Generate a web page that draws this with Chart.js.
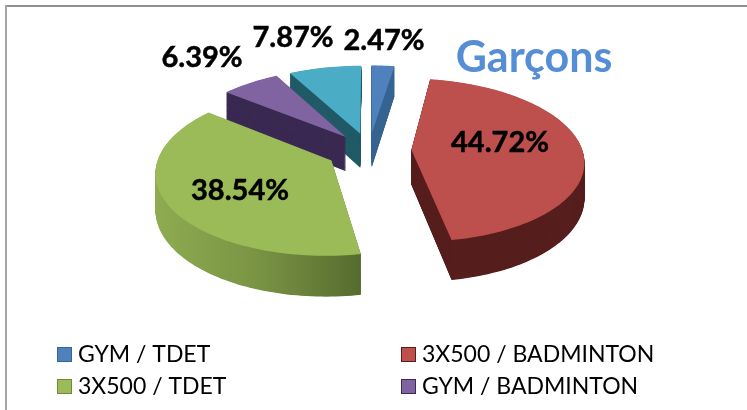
<!DOCTYPE html>
<html>
<head>
<meta charset="utf-8">
<style>
  html, body { margin: 0; padding: 0; background: #fff; }
  #wrap { width: 747px; height: 410px; }
</style>
<script src="https://cdn.jsdelivr.net/npm/chart.js@4"></script>
</head>
<body>
<div id="wrap"><canvas id="myChart" width="747" height="410"></canvas></div>
<script>
const categories = ['GYM / TDET', '3X500 / BADMINTON', '3X500 / TDET', 'GYM / BADMINTON', 'GYM / ATHLE'];
const percents = [2.47, 44.72, 38.54, 6.39, 7.87];
const percentLabels = ['2.47%', '44.72%', '38.54%', '6.39%', '7.87%'];
const topColors = ['#4f81bd', '#bd4f4d', '#9bbb59', '#8064a2', '#4bacc6'];
const sideColors = ['#376592', '#561f1d', '#6f8a3c', '#3b2a52', '#1f5a66'];
const chartTitle = 'Garçons';

// Excel style 3D look: the arcs keep their angles from the library,
// they just get projected on a tilted plane before being filled
const view = { radius: 171, tilt: 0.47, persp: 0.00074, depth: 35 };
const drawOrder = [0, 4, 3, 2, 1];
const explode = [28.6, 33, 33.5, 28.6, 28.6];
const labelSpots = [[384, 41], [500, 143], [240, 191], [202, 58], [293, 38]];
const legendSpots = [[57, 355], [401, 355], [57, 387], [401, 387]];

function project(cx, cy, u, v, drop) {
  const s = 1 / (1 - view.persp * v);
  return [cx + u * s, cy + view.tilt * v * s + drop * s];
}

function slicePoints(arc) {
  const scale = view.radius / arc.outerRadius;
  const mid = (arc.startAngle + arc.endAngle) / 2;
  const off = arc.options.offset * scale;
  const ox = Math.cos(mid) * off;
  const oy = Math.sin(mid) * off;
  const pts = [[ox, oy]];
  const steps = Math.max(6, Math.ceil((arc.endAngle - arc.startAngle) * 40));
  for (let i = 0; i <= steps; i++) {
    const a = arc.startAngle + (arc.endAngle - arc.startAngle) * i / steps;
    pts.push([ox + Math.cos(a) * view.radius, oy + Math.sin(a) * view.radius]);
  }
  return pts;
}

function fillSlice(ctx, arc, pts, drop, fill) {
  ctx.beginPath();
  pts.forEach(function (p, i) {
    const q = project(arc.x, arc.y, p[0], p[1], drop);
    if (i === 0) ctx.moveTo(q[0], q[1]);
    else ctx.lineTo(q[0], q[1]);
  });
  ctx.closePath();
  ctx.fillStyle = fill;
  ctx.fill();
}

const pie3d = {
  id: 'pie3d',
  beforeDraw(chart) {
    const ctx = chart.ctx;
    ctx.save();
    ctx.fillStyle = '#ffffff';
    ctx.fillRect(0, 0, 747, 410);
    ctx.fillStyle = '#8f8f8f';
    ctx.fillRect(5, 5, 742, 2);
    ctx.fillStyle = '#a6a6a6';
    ctx.fillRect(5, 5, 2, 405);
    ctx.restore();
  },
  beforeDatasetsDraw(chart) {
    const ctx = chart.ctx;
    const arcs = chart.getDatasetMeta(0).data;
    ctx.save();
    drawOrder.forEach(function (i) {
      const arc = arcs[i];
      const pts = slicePoints(arc);
      let side = sideColors[i];
      if (i === 2) {
        side = ctx.createLinearGradient(150, 0, 362, 0);
        side.addColorStop(0, '#8fad52');
        side.addColorStop(0.5, '#7a9444');
        side.addColorStop(1, '#566b2e');
      }
      for (let d = view.depth; d > 0; d -= 0.5) {
        fillSlice(ctx, arc, pts, d, side);
      }
      fillSlice(ctx, arc, pts, 0, topColors[i]);
    });
    ctx.restore();
    return false; // the library's flat arcs are replaced by the ones above
  },
  afterDraw(chart) {
    const ctx = chart.ctx;
    ctx.save();
    ctx.textBaseline = 'middle';

    ctx.textAlign = 'center';
    ctx.fillStyle = '#000000';
    ctx.strokeStyle = '#000000';
    ctx.lineWidth = 0.5;
    ctx.font = 'bold 29px Lato';
    percentLabels.forEach(function (t, i) {
      ctx.fillText(t, labelSpots[i][0], labelSpots[i][1]);
      ctx.strokeText(t, labelSpots[i][0], labelSpots[i][1]);
    });

    ctx.fillStyle = '#558ed5';
    ctx.font = 'bold 43px Lato';
    ctx.fillText(chartTitle, 534, 58);

    // the fifth legend entry is cut off in the original
    ctx.textAlign = 'left';
    ctx.font = '23px Lato';
    legendSpots.forEach(function (p, i) {
      ctx.fillStyle = topColors[i];
      ctx.strokeStyle = sideColors[i];
      ctx.lineWidth = 1;
      ctx.fillRect(p[0], p[1] - 8, 15, 15);
      ctx.strokeRect(p[0] + 0.5, p[1] - 7.5, 14, 14);
      ctx.fillStyle = '#000000';
      ctx.fillText(categories[i], p[0] + 21, p[1]);
    });
    ctx.restore();
  }
};

const ctx = document.getElementById('myChart').getContext('2d');
const myChart = new Chart(ctx, {
  type: 'pie',
  data: {
    labels: categories,
    datasets: [{
      data: percents,
      backgroundColor: topColors,
      borderWidth: 0,
      offset: explode
    }]
  },
  options: {
    responsive: false,
    animation: false,
    layout: { padding: { left: 0, right: 9, top: 0, bottom: 110 } },
    plugins: {
      legend: { display: false },
      title: { display: false },
      tooltip: { enabled: false }
    }
  },
  plugins: [pie3d]
});
</script>
</body>
</html>
